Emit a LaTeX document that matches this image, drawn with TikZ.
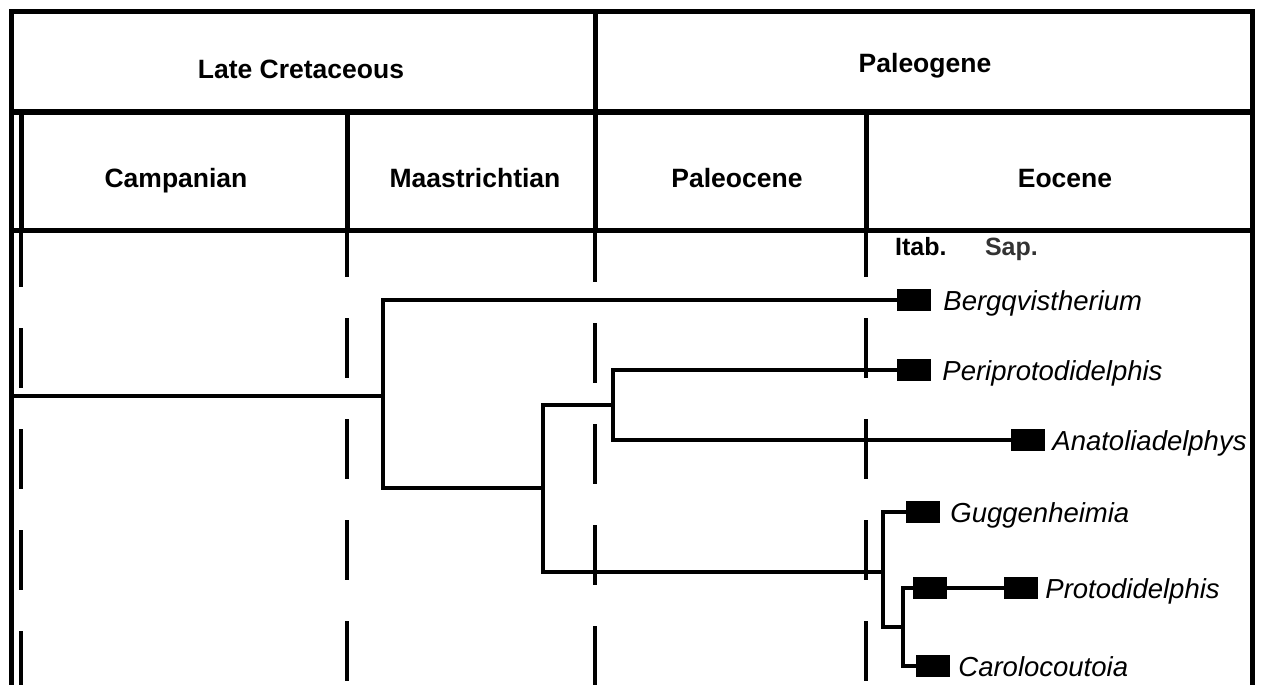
\documentclass[tikz,border=0pt]{standalone}
\usepackage{fontspec}
\setmainfont{Liberation Sans}
\usetikzlibrary{positioning}
\begin{document}
\begin{tikzpicture}[x=1pt,y=-1pt,
 frame/.style={line width=5pt},
 sep/.style={line width=4.2pt,dash pattern=on 60pt off 41pt},
 br/.style={line width=4.8pt},
 fos/.style={fill=black,inner sep=0pt,minimum width=34pt,minimum height=22pt},
 hd/.style={font=\fontsize{26.5}{30}\selectfont\bfseries,inner sep=0pt,anchor=base},
 sub/.style={font=\fontsize{25}{29}\selectfont\bfseries,inner sep=0pt},
 tx/.style={font=\fontsize{27.5}{32}\selectfont\itshape,inner sep=0pt,text height=26pt,text depth=6pt}
]
\useasboundingbox (0,0) rectangle (1262,685);
% time scale grid
\draw[frame] (11,685) -- (11,12) -- (1252,12) -- (1252,685);
\draw[frame] (11,112) -- (1252,112);
\draw[frame] (11,230) -- (1252,230);
\draw[frame] (595,12) -- (595,112);
\foreach \x in {21,347,595,866}
  \draw[frame] (\x,112) -- (\x,230);
\draw[sep,dash phase=3pt] (21,230) -- (21,685);
\draw[sep,dash phase=13pt] (347,230) -- (347,685);
\draw[sep,dash phase=8pt] (595,230) -- (595,685);
\draw[sep,dash phase=13pt] (866,230) -- (866,685);
\node[hd] (lk) at (301,79) {Late Cretaceous};
\node[hd] (pg) at (925,73) {Paleogene};
\node[hd] (camp) at (176,187) {Campanian};
\node[hd] (maas) at (475,187) {Maastrichtian};
\node[hd] (pal) at (737,187) {Paleocene};
\node[hd] (eoc) at (1065,187) {Eocene};
\node[sub,anchor=base west] (itab) at (895,255) {Itab.};
\node[sub,black!80,base right=38pt of itab] (sap) {Sap.};
% tree
\coordinate (r0) at (11,396);
\coordinate (n1) at (383,396);
\coordinate (n2) at (543,488);
\coordinate (n3) at (613,405);
\coordinate (n4) at (883,572);
\coordinate (n5) at (903,627);
\node[fos] (berg) at (914,300) {};
\node[fos] (peri) at (914,370) {};
\node[fos] (anat) at (1028,440) {};
\node[fos] (gugg) at (923,512) {};
\node[fos] (pro1) at (930,588) {};
\node[fos] (pro2) at (1021,588) {};
\node[fos] (caro) at (933,666) {};
\node[tx,right=12pt of berg] (bergl) {Bergqvistherium};
\node[tx,right=11pt of peri] (peril) {Periprotodidelphis};
\node[tx,right=7pt of anat] (anatl) {Anatoliadelphys};
\node[tx,right=10pt of gugg] (guggl) {Guggenheimia};
\node[tx,right=7pt of pro2] (prol) {Protodidelphis};
\node[tx,right=8pt of caro] (carol) {Carolocoutoia};
\draw[br] (r0) -- (n1);
\draw[br] (berg.west) -| (n1) |- (n2);
\draw[br] (n3) -| (n2) |- (n4);
\draw[br] (peri.west) -| (n3) |- (anat.west);
\draw[br] (gugg.west) -| (n4) |- (n5);
\draw[br] (pro1.west) -| (n5) |- (caro.west);
\draw[br] (pro1) -- (pro2);
\end{tikzpicture}
\end{document}
